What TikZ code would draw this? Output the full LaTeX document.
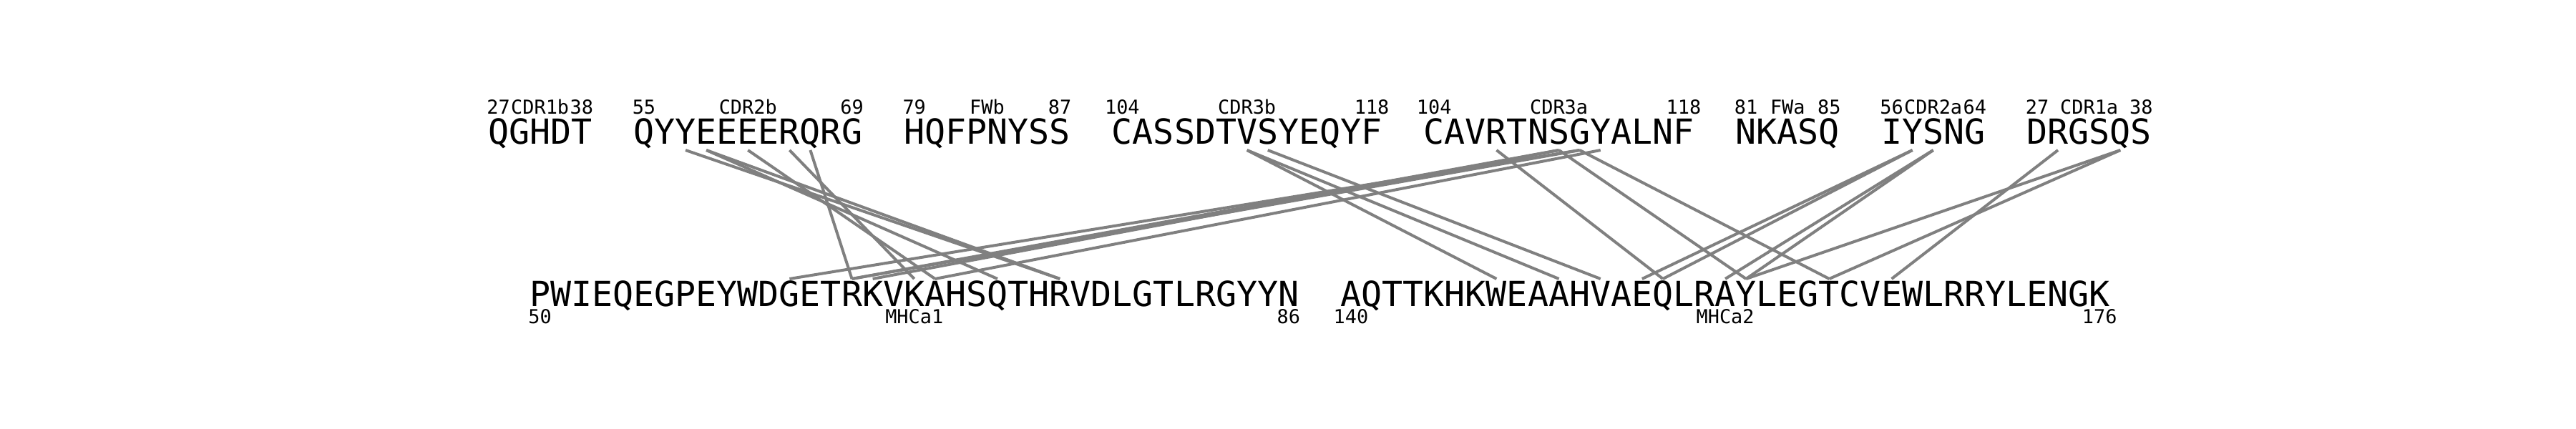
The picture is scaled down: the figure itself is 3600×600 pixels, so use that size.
\documentclass[tikz,border=0pt]{standalone}
\usepackage{fontspec}
\newfontfamily\seqfont{DejaVu Sans Mono}
\definecolor{linkgray}{RGB}{128,128,128}
\begin{document}
\begin{tikzpicture}[x=0.1mm,y=0.1mm,
  res/.style={font=\seqfont\fontsize{13.74pt}{14pt}\selectfont, inner sep=0pt, outer sep=0pt, anchor=base},
  lab/.style={font=\seqfont\fontsize{7.65pt}{8pt}\selectfont, inner sep=0pt, outer sep=0pt, anchor=base},
  link/.style={draw=linkgray, line width=0.4mm}]
\def\cw{29.06}\def\xo{682}\def\yt{398.5}\def\yb{171}
\fill[white] (0,0) rectangle (3600,600);
\useasboundingbox (0,0) rectangle (3600,600);
\coordinate (tl) at (0,390);
\coordinate (bl) at (0,210);
% top row
\foreach \c [count=\k from 0] in {Q,G,H,D,T} {\node[res] (t\k) at ({\xo+(\k+0.5)*\cw},\yt) {\c};}
\foreach \c [count=\k from 7] in {Q,Y,Y,E,E,E,E,R,Q,R,G} {\node[res] (t\k) at ({\xo+(\k+0.5)*\cw},\yt) {\c};}
\foreach \c [count=\k from 20] in {H,Q,F,P,N,Y,S,S} {\node[res] (t\k) at ({\xo+(\k+0.5)*\cw},\yt) {\c};}
\foreach \c [count=\k from 30] in {C,A,S,S,D,T,V,S,Y,E,Q,Y,F} {\node[res] (t\k) at ({\xo+(\k+0.5)*\cw},\yt) {\c};}
\foreach \c [count=\k from 45] in {C,A,V,R,T,N,S,G,Y,A,L,N,F} {\node[res] (t\k) at ({\xo+(\k+0.5)*\cw},\yt) {\c};}
\foreach \c [count=\k from 60] in {N,K,A,S,Q} {\node[res] (t\k) at ({\xo+(\k+0.5)*\cw},\yt) {\c};}
\foreach \c [count=\k from 67] in {I,Y,S,N,G} {\node[res] (t\k) at ({\xo+(\k+0.5)*\cw},\yt) {\c};}
\foreach \c [count=\k from 74] in {D,R,G,S,Q,S} {\node[res] (t\k) at ({\xo+(\k+0.5)*\cw},\yt) {\c};}
% bottom row
\foreach \c [count=\k from 2] in {P,W,I,E,Q,E,G,P,E,Y,W,D,G,E,T,R,K,V,K,A,H,S,Q,T,H,R,V,D,L,G,T,L,R,G,Y,Y,N} {\node[res] (b\k) at ({\xo+(\k+0.5)*\cw},\yb) {\c};}
\foreach \c [count=\k from 41] in {A,Q,T,T,K,H,K,W,E,A,A,H,V,A,E,Q,L,R,A,Y,L,E,G,T,C,V,E,W,L,R,R,Y,L,E,N,G,K} {\node[res] (b\k) at ({\xo+(\k+0.5)*\cw},\yb) {\c};}
% labels
\newcommand\seglab[7]{%
 \node[lab] (#1s) at ({\xo+(#2+0.5)*\cw},#7) {#4};
 \node[lab] (#1n) at ({\xo+((#2+#3)/2+0.5)*\cw},#7) {#5};
 \node[lab] (#1e) at ({\xo+(#3+0.5)*\cw},#7) {#6};}
\seglab{la}{0}{4}{27}{CDR1b}{38}{440.5}
\seglab{lb}{7}{17}{55}{CDR2b}{69}{440.5}
\seglab{lc}{20}{27}{79}{FWb}{87}{440.5}
\seglab{ld}{30}{42}{104}{CDR3b}{118}{440.5}
\seglab{le}{45}{57}{104}{CDR3a}{118}{440.5}
\seglab{lf}{60}{64}{81}{FWa}{85}{440.5}
\seglab{lg}{67}{71}{56}{CDR2a}{64}{440.5}
\seglab{lh}{74}{79}{27}{CDR1a}{38}{440.5}
\seglab{ma}{2}{38}{50}{MHCa1}{86}{147.3}
\seglab{mb}{41}{77}{140}{MHCa2}{176}{147.3}
% links
\newcommand\lk[2]{\draw[link] (t#1 |- tl) -- (b#2 |- bl);}
\lk{9}{27}\lk{10}{27}\lk{10}{24}\lk{12}{21}\lk{14}{20}\lk{15}{17}
\lk{51}{17}\lk{51}{18}\lk{52}{17}\lk{52}{14}\lk{53}{21}
\lk{48}{56}\lk{51}{60}\lk{52}{64}
\lk{36}{48}\lk{36}{51}\lk{37}{53}
\lk{68}{55}\lk{68}{56}\lk{69}{59}\lk{69}{60}
\lk{75}{67}\lk{78}{60}\lk{78}{64}
\end{tikzpicture}
\end{document}
